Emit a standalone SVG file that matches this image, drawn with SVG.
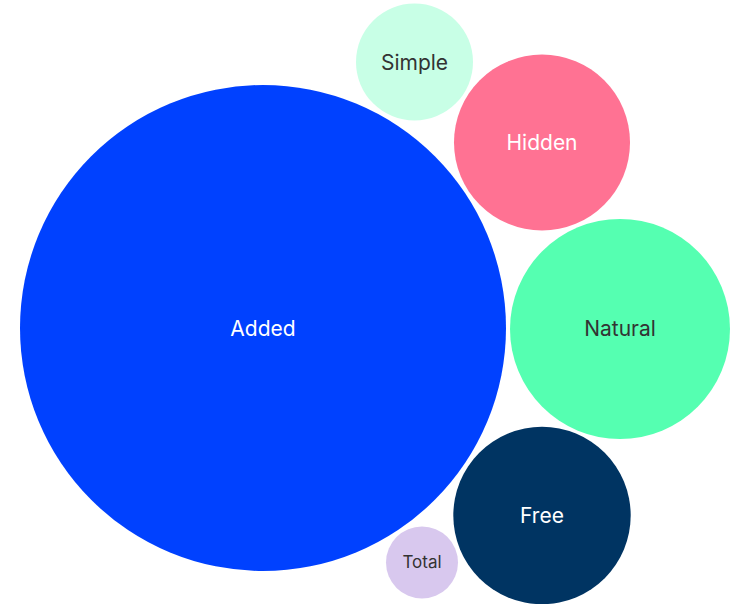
<svg xmlns="http://www.w3.org/2000/svg" width="731" height="604" viewBox="0 0 731 604">
<style>
text{font-family:"Inter","Liberation Sans",sans-serif;font-size:21px;text-anchor:middle;dominant-baseline:central}
.l{fill:#ffffff}.d{fill:#333333}
</style>
<rect width="731" height="604" fill="#ffffff"/>
<g id="added"><circle cx="263" cy="328" r="243" fill="#0041FF"/><text class="l" x="263" y="328">Added</text></g>
<g id="simple"><circle cx="414.5" cy="62" r="58.5" fill="#C8FFE6"/><text class="d" x="414.5" y="62">Simple</text></g>
<g id="hidden"><circle cx="542" cy="142.5" r="88" fill="#FF7293"/><text class="l" x="542" y="142">Hidden</text></g>
<g id="natural"><circle cx="620" cy="329" r="110" fill="#55FFB1"/><text class="d" x="620" y="328">Natural</text></g>
<g id="free"><circle cx="542" cy="515.5" r="88.7" fill="#003462"/><text class="l" x="542" y="515">Free</text></g>
<g id="total"><circle cx="422" cy="562.5" r="36" fill="#D8C8EE"/><text class="d" x="422" y="562" style="font-size:17px">Total</text></g>
<g id="connectors"/>
</svg>
